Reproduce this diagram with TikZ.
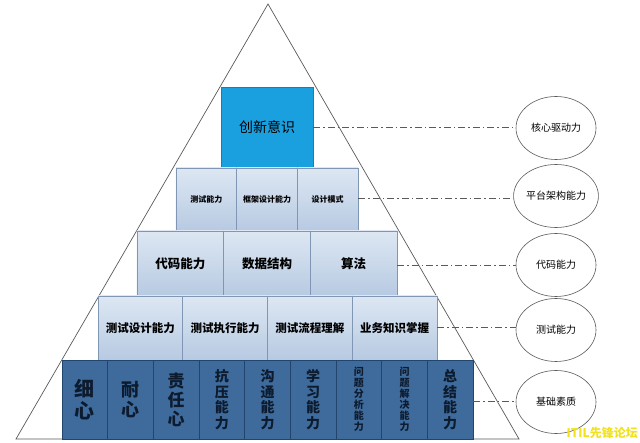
\documentclass[tikz,border=0pt]{standalone}
\usepackage{fontspec}
\setmainfont{Noto Sans CJK SC}
\usetikzlibrary{shapes.geometric}
\definecolor{lightTop}{HTML}{DDE7F3}
\definecolor{lightBot}{HTML}{B7CAE2}
\definecolor{lightLine}{HTML}{7F97B5}
\definecolor{darkFill}{HTML}{3E6B9C}
\definecolor{darkLine}{HTML}{22456E}
\definecolor{cyanFill}{HTML}{1BA0DF}
\definecolor{cyanLine}{HTML}{1480B5}
\definecolor{triLine}{HTML}{5A5A5A}
\definecolor{darkText}{HTML}{0D1B2E}
\definecolor{wmYellow}{HTML}{F2E21B}
\tikzset{
  lt/.style={draw=lightLine, line width=0.6pt, top color=lightTop, bottom color=lightBot, inner sep=0pt, text=black},
  dk/.style={draw=darkLine, line width=0.6pt, fill=darkFill, inner sep=0pt, text=darkText, align=center, font=\bfseries},
  cy/.style={draw=cyanLine, line width=0.6pt, fill=cyanFill, inner sep=0pt, text=black},
  oval/.style={ellipse, draw=triLine, line width=0.6pt, fill=white, minimum width=80pt, minimum height=63pt, inner sep=0pt, font=\fontsize{10}{12}\selectfont},
  dd/.style={draw=triLine, line width=0.6pt, dash pattern=on 7pt off 3pt on 1.5pt off 3pt},
}
\begin{document}
\begin{tikzpicture}[x=1pt,y=-1pt]
\useasboundingbox (0,0) rectangle (640,443);
\fill[white] (0,0) rectangle (640,443);
% triangle
\draw[triLine, line width=0.7pt, fill=white] (268,4) -- (519,439) -- (16,439) -- cycle;
% top block
\node[cy, minimum width=92pt, minimum height=81pt, font=\fontsize{14}{16}\selectfont] (top) at (267,127.5) {创新意识};
% row 2
\foreach \i/\t in {0/测试能力,1/框架设计能力,2/设计模式}{
  \node[lt, minimum width=60.67pt, minimum height=63pt, font=\fontsize{8}{10}\selectfont\bfseries] (r2\i) at ({176+30.33+60.67*\i},199.5) {\t};
}
% row 3
\foreach \i/\t in {0/代码能力,1/数据结构,2/算法}{
  \node[lt, minimum width=86.67pt, minimum height=65pt, font=\fontsize{12.5}{14}\selectfont\bfseries] (r3\i) at ({137+43.33+86.67*\i},263.5) {\t};
}
% row 4
\foreach \i/\t in {0/测试设计能力,1/测试执行能力,2/测试流程理解,3/业务知识掌握}{
  \node[lt, minimum width=84.75pt, minimum height=64pt, font=\fontsize{11.5}{13}\selectfont\bfseries] (r4\i) at ({98+42.375+84.75*\i},328) {\t};
}
% row 5
\def\cw{45.67}
\node[dk, minimum width=\cw pt, minimum height=79pt, font=\fontsize{20}{22}\selectfont\bfseries] (r50) at ({62+\cw/2+\cw*0},399.5) {细\\心};
\node[dk, minimum width=\cw pt, minimum height=79pt, font=\fontsize{18}{20}\selectfont\bfseries] (r51) at ({62+\cw/2+\cw*1},399.5) {耐\\心};
\node[dk, minimum width=\cw pt, minimum height=79pt, font=\fontsize{17}{19}\selectfont\bfseries] (r52) at ({62+\cw/2+\cw*2},399.5) {责\\任\\心};
\node[dk, minimum width=\cw pt, minimum height=79pt, font=\fontsize{14}{15.5}\selectfont\bfseries] (r53) at ({62+\cw/2+\cw*3},399.5) {抗\\压\\能\\力};
\node[dk, minimum width=\cw pt, minimum height=79pt, font=\fontsize{14}{15.5}\selectfont\bfseries] (r54) at ({62+\cw/2+\cw*4},399.5) {沟\\通\\能\\力};
\node[dk, minimum width=\cw pt, minimum height=79pt, font=\fontsize{14}{15.5}\selectfont\bfseries] (r55) at ({62+\cw/2+\cw*5},399.5) {学\\习\\能\\力};
\node[dk, minimum width=\cw pt, minimum height=79pt, font=\fontsize{10}{11}\selectfont\bfseries] (r56) at ({62+\cw/2+\cw*6},399.5) {问\\题\\分\\析\\能\\力};
\node[dk, minimum width=\cw pt, minimum height=79pt, font=\fontsize{10}{11}\selectfont\bfseries] (r57) at ({62+\cw/2+\cw*7},399.5) {问\\题\\解\\决\\能\\力};
\node[dk, minimum width=\cw pt, minimum height=79pt, font=\fontsize{14}{15.5}\selectfont\bfseries] (r58) at ({62+\cw/2+\cw*8},399.5) {总\\结\\能\\力};
% ellipses
\node[oval] (e1) at (556,128) {核心驱动力};
\node[oval] (e2) at (556,196) {平台架构能力};
\node[oval] (e3) at (556,265) {代码能力};
\node[oval] (e4) at (556,330) {测试能力};
\node[oval] (e5) at (556,402) {基础素质};
% dash-dot connectors
\draw[dd] (top.east |- 0,127) -- (e1.west |- 0,127);
\draw[dd] (r22.east |- 0,198) -- (e2.west |- 0,198);
\draw[dd] (r32.east |- 0,265) -- (e3.west |- 0,265);
\draw[dd] (r43.east |- 0,327) -- (e4.west |- 0,327);
\draw[dd] (r58.east |- 0,401) -- (e5.west |- 0,401);
% watermark
\node[text=wmYellow, font=\fontsize{12}{13}\selectfont\bfseries, inner sep=0pt, anchor=east] (wm) at (638,433) {ITIL先锋论坛};
\end{tikzpicture}
\end{document}
